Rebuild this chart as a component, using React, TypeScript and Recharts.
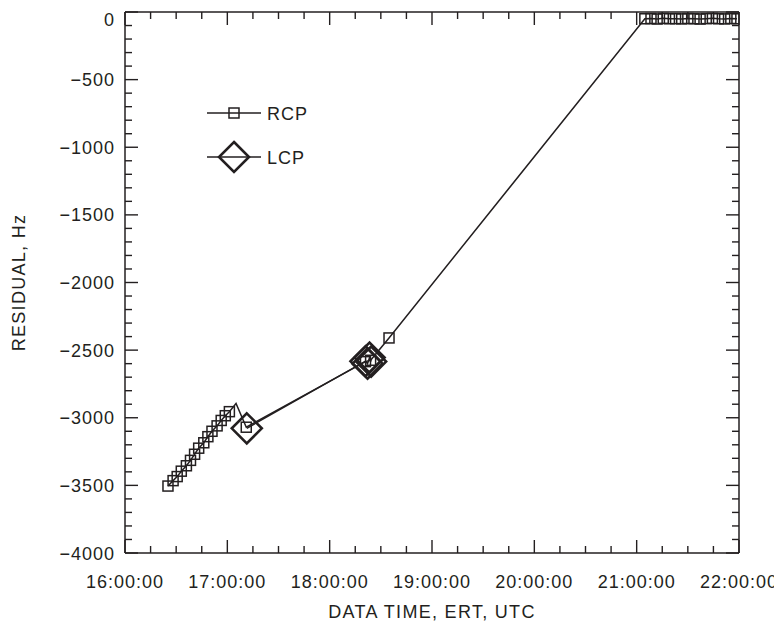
import React from "react";
import { LineChart, Line, XAxis, YAxis, Legend } from "recharts";

const INK = "#231f20";
const FONT = "'Liberation Sans', Arial, sans-serif";

// RCP residuals (time in decimal hours UTC, residual in Hz)
const rcpTime = [
  16.42, 16.47, 16.51, 16.55, 16.6, 16.64, 16.68, 16.72, 16.77, 16.81, 16.85, 16.9, 16.94, 16.98, 17.02,
  17.085, 17.185, 18.35, 18.4, 18.58,
  21.08, 21.14, 21.2, 21.26, 21.32, 21.38, 21.44, 21.5, 21.56, 21.62, 21.68, 21.74, 21.8, 21.86, 21.92, 21.98,
];
const rcpResidual = [
  -3505, -3465, -3435, -3395, -3355, -3315, -3270, -3225, -3185, -3140, -3100, -3060, -3020, -2985, -2955,
  -2895, -3070, -2585, -2575, -2410,
  -50, -48, -52, -47, -50, -49, -51, -48, -50, -52, -49, -47, -50, -51, -48, -50,
];
// the turning point after 17:00 is drawn without a marker
const RCP_APEX = 15;

const lcpTime = [17.19, 18.35, 18.37, 18.39, 18.405];
const lcpResidual = [-3078, -2582, -2600, -2555, -2585];

const hourTicks = [16, 17, 18, 19, 20, 21, 22];
const hourLabels = ["16:00:00", "17:00:00", "18:00:00", "19:00:00", "20:00:00", "21:00:00", "22:00:00"];
const yMajor = [0, -500, -1000, -1500, -2000, -2500, -3000, -3500, -4000];
const yLabels = ["0", "\u2212500", "\u22121000", "\u22121500", "\u22122000", "\u22122500", "\u22123000", "\u22123500", "\u22124000"];

const rcpData = rcpTime.map((t, i) => ({ t, v: rcpResidual[i] }));
const lcpData = lcpTime.map((t, i) => ({ t, v: lcpResidual[i] }));

const xTicks: number[] = [];
for (let i = 0; i <= 24; i++) xTicks.push(16 + i * 0.25);
const yTicks: number[] = [];
for (let i = 0; i <= 40; i++) yTicks.push(-i * 100);

const isMajorX = (v: number) => hourTicks.includes(v);
const isMajorY = (v: number) => yMajor.includes(v);

// chart layout
const W = 774;
const H = 622;
const MARGIN = { top: 4, right: 43, bottom: 37, left: 57 };
const PLOT_TOP = MARGIN.top;
const PLOT_RIGHT = W - MARGIN.right;

// bottom ticks also draw the matching inward tick on the top side of the frame
const BottomTick = ({ x, y, payload, index }: any) => {
  const major = isMajorX(payload.value);
  const idx = hourTicks.indexOf(payload.value);
  const len = major ? 13 : 7;
  return (
    <g>
      <line x1={x} x2={x} y1={y} y2={y - len} stroke={INK} strokeWidth={1.4} />
      <line x1={x} x2={x} y1={PLOT_TOP} y2={PLOT_TOP + len} stroke={INK} strokeWidth={1.4} />
      {index === 0 && (
        <line x1={x} x2={PLOT_RIGHT} y1={PLOT_TOP} y2={PLOT_TOP} stroke={INK} strokeWidth={1.5} />
      )}
      {major && (
        <text x={x} y={y + 35} textAnchor="middle" fontSize={18} letterSpacing={1} fill={INK} fontFamily={FONT}>
          {hourLabels[idx]}
        </text>
      )}
    </g>
  );
};

// left ticks also draw the matching inward tick on the right side of the frame
const LeftTick = ({ x, y, payload, index }: any) => {
  const major = isMajorY(payload.value);
  const idx = yMajor.indexOf(payload.value);
  const len = major ? 13 : 7;
  // the top label sits a little below the frame so it is not clipped
  const ty = payload.value === 0 ? y + 13.5 : y + 6.5;
  return (
    <g>
      <line x1={x} x2={x + len} y1={y} y2={y} stroke={INK} strokeWidth={1.4} />
      <line x1={PLOT_RIGHT} x2={PLOT_RIGHT - len} y1={y} y2={y} stroke={INK} strokeWidth={1.4} />
      {index === 0 && (
        <line x1={PLOT_RIGHT} x2={PLOT_RIGHT} y1={PLOT_TOP} y2={H - MARGIN.bottom - 40} stroke={INK} strokeWidth={1.5} />
      )}
      {major && (
        <text x={x - 10} y={ty} textAnchor="end" fontSize={18} letterSpacing={1} fill={INK} fontFamily={FONT}>
          {yLabels[idx]}
        </text>
      )}
    </g>
  );
};

const SquareDot = (props: any) => {
  const { cx, cy, index } = props;
  if (cx == null || cy == null || index === RCP_APEX) return <g key={`s${index}`} />;
  return (
    <rect key={`s${index}`} x={cx - 5} y={cy - 5} width={10} height={10} fill="none" stroke={INK} strokeWidth={1.5} />
  );
};

const diamondPath = (cx: number, cy: number, r: number) =>
  `M${cx},${cy - r} L${cx + r},${cy} L${cx},${cy + r} L${cx - r},${cy} Z`;

const DiamondDot = (props: any) => {
  const { cx, cy, index } = props;
  if (cx == null || cy == null) return <g key={`d${index}`} />;
  return <path key={`d${index}`} d={diamondPath(cx, cy, 15)} fill="none" stroke={INK} strokeWidth={2.6} />;
};

const LegendContent = () => (
  <svg width={130} height={80} style={{ display: "block", overflow: "visible" }}>
    <g>
      <line x1={0} x2={54} y1={14} y2={14} stroke={INK} strokeWidth={1.5} />
      <rect x={22} y={9} width={10} height={10} fill="none" stroke={INK} strokeWidth={1.5} />
      <text x={60} y={20.5} fontSize={18} letterSpacing={1} fill={INK} fontFamily={FONT}>RCP</text>
    </g>
    <g>
      <line x1={0} x2={54} y1={58} y2={58} stroke={INK} strokeWidth={1.5} />
      <path d={diamondPath(27, 58, 15)} fill="none" stroke={INK} strokeWidth={2.6} />
      <text x={60} y={64.5} fontSize={18} letterSpacing={1} fill={INK} fontFamily={FONT}>LCP</text>
    </g>
  </svg>
);

const XTitle = ({ viewBox }: any) => (
  <text
    x={viewBox.x + viewBox.width / 2}
    y={viewBox.y + 65}
    textAnchor="middle"
    fontSize={18}
    letterSpacing={1.3}
    fill={INK}
    fontFamily={FONT}
  >
    DATA TIME, ERT, UTC
  </text>
);

const YTitle = ({ viewBox }: any) => {
  const cx = viewBox.x - 40;
  const cy = viewBox.y + viewBox.height / 2;
  return (
    <text
      x={cx}
      y={cy}
      transform={`rotate(-90, ${cx}, ${cy})`}
      textAnchor="middle"
      fontSize={18}
      letterSpacing={1.3}
      fill={INK}
      fontFamily={FONT}
    >
      RESIDUAL, Hz
    </text>
  );
};

export default function App() {
  return (
    <div style={{ background: "#fff" }}>
      <LineChart width={W} height={H} margin={MARGIN}>
        <XAxis
          xAxisId="b"
          dataKey="t"
          type="number"
          domain={[16, 22]}
          ticks={xTicks}
          interval={0}
          height={40}
          tickSize={0}
          tickMargin={0}
          tick={<BottomTick />}
          stroke={INK}
          strokeWidth={1.5}
          allowDataOverflow
          label={<XTitle />}
        />
        <YAxis
          yAxisId="l"
          type="number"
          domain={[-4000, 0]}
          ticks={yTicks}
          interval={0}
          width={60}
          tickSize={0}
          tickMargin={0}
          tick={<LeftTick />}
          stroke={INK}
          strokeWidth={1.5}
          allowDataOverflow
          label={<YTitle />}
        />
        <Legend
          layout="vertical"
          align="center"
          verticalAlign="middle"
          wrapperStyle={{ left: 199, top: 91, width: 130 }}
          content={<LegendContent />}
        />
        <Line
          xAxisId="b"
          yAxisId="l"
          name="RCP"
          data={rcpData}
          dataKey="v"
          stroke={INK}
          strokeWidth={1.5}
          dot={<SquareDot />}
          activeDot={false}
          isAnimationActive={false}
        />
        <Line
          xAxisId="b"
          yAxisId="l"
          name="LCP"
          data={lcpData}
          dataKey="v"
          stroke={INK}
          strokeWidth={1.5}
          dot={<DiamondDot />}
          activeDot={false}
          isAnimationActive={false}
        />
      </LineChart>
    </div>
  );
}
